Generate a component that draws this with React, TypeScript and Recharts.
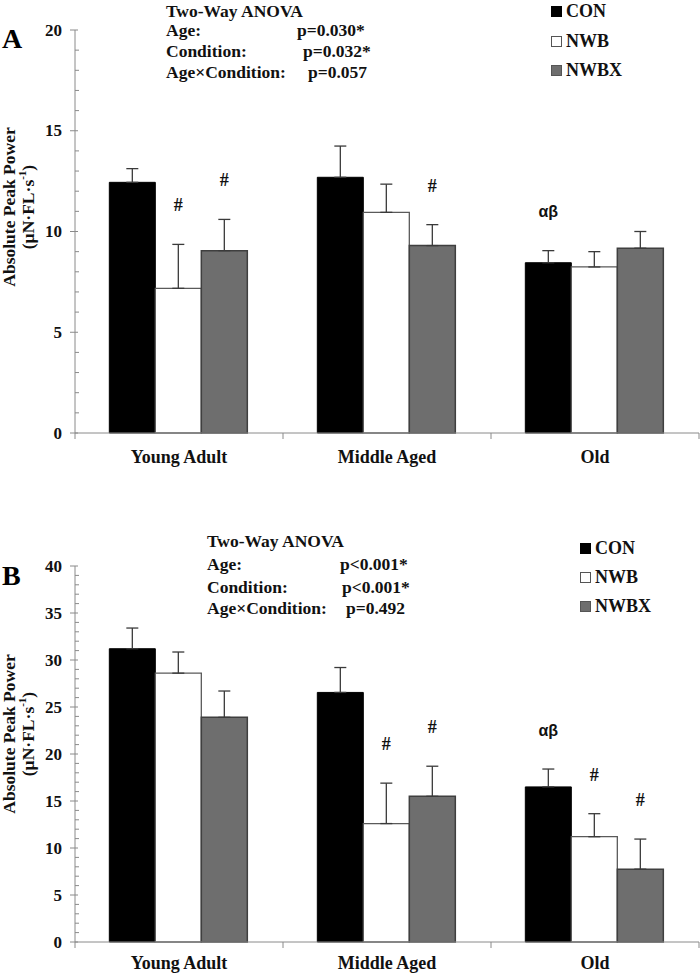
import React from 'react';
import { BarChart, Bar, XAxis, YAxis, ErrorBar, LabelList, Legend } from 'recharts';

const categories = ['Young Adult', 'Middle Aged', 'Old'];
const seriesNames = ['CON', 'NWB', 'NWBX'];

// Panel A – absolute peak power, means and SEM (upper only)
const conA = [12.44, 12.69, 8.45];
const conErrA = [0.68, 1.55, 0.6];
const nwbA = [7.18, 10.95, 8.24];
const nwbErrA = [2.18, 1.4, 0.76];
const nwbxA = [9.05, 9.3, 9.17];
const nwbxErrA = [1.55, 1.04, 0.83];
const conMarksA = ['', '', 'αβ'];
const nwbMarksA = ['#', '', ''];
const nwbxMarksA = ['#', '#', ''];

// Panel B
const conB = [31.2, 26.55, 16.5];
const conErrB = [2.2, 2.65, 1.9];
const nwbB = [28.6, 12.6, 11.2];
const nwbErrB = [2.25, 4.3, 2.45];
const nwbxB = [23.9, 15.5, 7.75];
const nwbxErrB = [2.8, 3.2, 3.2];
const conMarksB = ['', '', 'αβ'];
const nwbMarksB = ['', '#', '#'];
const nwbxMarksB = ['', '#', '#'];

const anovaA = [
  ['Age:', 'p=0.030*'],
  ['Condition:', 'p=0.032*'],
  ['Age×Condition:', 'p=0.057'],
];
const anovaB = [
  ['Age:', 'p<0.001*'],
  ['Condition:', 'p<0.001*'],
  ['Age×Condition:', 'p=0.492'],
];

const SERIF = "'Liberation Serif', 'Times New Roman', serif";
const AXIS_COLOR = '#8a8a8a';
const AX = 75;
const PLOT_W = 624;

const barStyle: Record<string, { fill: string; stroke: string; sw: number }> = {
  CON: { fill: '#000000', stroke: '#000000', sw: 1 },
  NWB: { fill: '#ffffff', stroke: '#5a5a5a', sw: 1.3 },
  NWBX: { fill: '#6e6e6e', stroke: '#3f3f3f', sw: 1.5 },
};

function buildRows(vals: number[][], errs: number[][], marks: string[][]) {
  return categories.map((c, i) => {
    const row: any = { category: c };
    seriesNames.forEach((s, k) => {
      row[s] = vals[k][i];
      row[s + '_err'] = [0, errs[k][i]];
      row[s + '_mark'] = marks[k][i];
    });
    return row;
  });
}

const rowsA = buildRows([conA, nwbA, nwbxA], [conErrA, nwbErrA, nwbxErrA], [conMarksA, nwbMarksA, nwbxMarksA]);
const rowsB = buildRows([conB, nwbB, nwbxB], [conErrB, nwbErrB, nwbxErrB], [conMarksB, nwbMarksB, nwbxMarksB]);

// one tick per unit, labelled every 5
const range = (max: number) => Array.from({ length: max + 1 }, (_, i) => i);

function YTick(props: any) {
  const { y, payload } = props;
  const v = payload.value;
  const major = v % 5 === 0;
  return (
    <g>
      {major ? (
        <line x1={AX - 5} x2={AX + 3} y1={y} y2={y} stroke={AXIS_COLOR} />
      ) : (
        <line x1={AX} x2={AX + 4} y1={y} y2={y} stroke={AXIS_COLOR} />
      )}
      {major && (
        <text x={AX - 13} y={y} textAnchor="end" dominantBaseline="central" fontFamily={SERIF} fontWeight="bold" fontSize={17} fill="#111">
          {v}
        </text>
      )}
    </g>
  );
}

function makeXTick(labelDy: number) {
  return (props: any) => {
    const { x, y, payload, index } = props;
    const band = PLOT_W / categories.length;
    return (
      <g>
        <line x1={x - band / 2} x2={x - band / 2} y1={y} y2={y + 6} stroke={AXIS_COLOR} />
        {index === categories.length - 1 && (
          <line x1={x + band / 2} x2={x + band / 2} y1={y} y2={y + 6} stroke={AXIS_COLOR} />
        )}
        <text x={x} y={y + labelDy} textAnchor="middle" dominantBaseline="central" fontFamily={SERIF} fontWeight="bold" fontSize={18} fill="#111">
          {payload.value}
        </text>
      </g>
    );
  };
}

function makeMark(values: number[], errs: number[]) {
  return (props: any) => {
    const { x, y, width, height, index, value } = props;
    if (!value) return null;
    const pxPerUnit = height / values[index];
    const errTop = y - errs[index] * pxPerUnit;
    const greek = value !== '#';
    return (
      <text
        x={x + width / 2}
        y={errTop - 39}
        textAnchor="middle"
        dominantBaseline="central"
        fontFamily={greek ? "'Liberation Sans', Arial, sans-serif" : SERIF}
        fontWeight="bold"
        fontSize={greek ? 16 : 18}
        fill="#111"
      >
        {value}
      </text>
    );
  };
}

function LegendBox({ rowH }: { rowH: number }) {
  return (
    <div style={{ fontFamily: SERIF, fontWeight: 'bold', fontSize: 18, color: '#111' }}>
      {seriesNames.map((s) => (
        <div key={s} style={{ height: rowH, display: 'flex', alignItems: 'center' }}>
          <span
            style={{
              display: 'inline-block',
              width: 9,
              height: 9,
              background: barStyle[s].fill,
              border: `1px solid ${s === 'CON' ? '#000' : '#555'}`,
              marginRight: 4,
            }}
          />
          <span>{s}</span>
        </div>
      ))}
    </div>
  );
}

function Panel({ rows, vals, errs, height, top, plotTop, maxY, xAxisH, labelDy, legendLeft, legendTop, legendRowH }: any) {
  return (
    <div style={{ position: 'absolute', left: 0, top, width: 700, height }}>
      <BarChart
        width={700}
        height={height}
        data={rows}
        margin={{ top: plotTop, right: 1, left: 0, bottom: 0 }}
        barCategoryGap="16.5%"
        barGap={0}
      >
        <XAxis
          dataKey="category"
          height={xAxisH}
          axisLine={{ stroke: AXIS_COLOR }}
          tickLine={false}
          tickSize={0}
          tickMargin={0}
          tick={makeXTick(labelDy)}
          interval={0}
        />
        <YAxis
          width={AX}
          domain={[0, maxY]}
          ticks={range(maxY)}
          interval={0}
          axisLine={{ stroke: AXIS_COLOR }}
          tickLine={false}
          tickSize={0}
          tickMargin={0}
          tick={<YTick />}
        />
        <Legend
          layout="vertical"
          align="center"
          verticalAlign="middle"
          wrapperStyle={{ left: legendLeft, top: legendTop, width: 120 }}
          content={() => <LegendBox rowH={legendRowH} />}
        />
        {seriesNames.map((s, k) => (
          <Bar
            key={s}
            dataKey={s}
            name={s}
            fill={barStyle[s].fill}
            stroke={barStyle[s].stroke}
            strokeWidth={barStyle[s].sw}
            isAnimationActive={false}
          >
            <ErrorBar dataKey={s + '_err'} width={6} stroke="#3a3a3a" strokeWidth={1.3} direction="y" />
            <LabelList dataKey={s + '_mark'} content={makeMark(vals[k], errs[k])} />
          </Bar>
        ))}
      </BarChart>
    </div>
  );
}

function AnovaBlock({ x, rowsY, pX, lines }: { x: number; rowsY: number[]; pX: number[]; lines: string[][] }) {
  const common = { fontFamily: SERIF, fontWeight: 'bold' as const, fontSize: 17.5, fill: '#111', dominantBaseline: 'central' as const };
  return (
    <g>
      <text x={x} y={rowsY[0]} {...common}>Two-Way ANOVA</text>
      {lines.map((ln, i) => (
        <g key={i}>
          <text x={x} y={rowsY[i + 1]} {...common}>{ln[0]}</text>
          <text x={pX[i]} y={rowsY[i + 1]} {...common}>{ln[1]}</text>
        </g>
      ))}
    </g>
  );
}

function YLabel({ cy }: { cy: number }) {
  const common = { fontFamily: SERIF, fontWeight: 'bold' as const, fontSize: 17.5, fill: '#111', textAnchor: 'middle' as const, dominantBaseline: 'central' as const };
  return (
    <g>
      <text x={9} y={cy} transform={`rotate(-90, 9, ${cy})`} {...common}>Absolute Peak Power</text>
      <text x={28} y={cy} transform={`rotate(-90, 28, ${cy})`} {...common}>
        (µN·FL·s<tspan fontSize={11} dy={-6}>-1</tspan><tspan dy={6}>)</tspan>
      </text>
    </g>
  );
}

export default function App() {
  return (
    <div style={{ position: 'absolute', left: 0, top: 0, width: 700, height: 973, background: '#fff', overflow: 'hidden' }}>
      <Panel
        rows={rowsA}
        vals={[conA, nwbA, nwbxA]}
        errs={[conErrA, nwbErrA, nwbxErrA]}
        height={480}
        top={0}
        plotTop={30}
        maxY={20}
        xAxisH={47}
        labelDy={24}
        legendLeft={551}
        legendTop={-3}
        legendRowH={29.5}
      />
      <Panel
        rows={rowsB}
        vals={[conB, nwbB, nwbxB]}
        errs={[conErrB, nwbErrB, nwbxErrB]}
        height={493}
        top={480}
        plotTop={86}
        maxY={40}
        xAxisH={31}
        labelDy={21}
        legendLeft={580}
        legendTop={54}
        legendRowH={29}
      />
      <svg width={700} height={973} style={{ position: 'absolute', left: 0, top: 0, pointerEvents: 'none' }}>
        <text x={2} y={38} fontFamily={SERIF} fontWeight="bold" fontSize={28} dominantBaseline="central" fill="#000">A</text>
        <text x={2} y={575} fontFamily={SERIF} fontWeight="bold" fontSize={28} dominantBaseline="central" fill="#000">B</text>
        <AnovaBlock x={166} rowsY={[11, 30, 51, 72]} pX={[297, 303, 308]} lines={anovaA} />
        <AnovaBlock x={207} rowsY={[541, 564, 587, 608]} pX={[340, 342, 346]} lines={anovaB} />
        <YLabel cy={207} />
        <YLabel cy={734} />
      </svg>
    </div>
  );
}
